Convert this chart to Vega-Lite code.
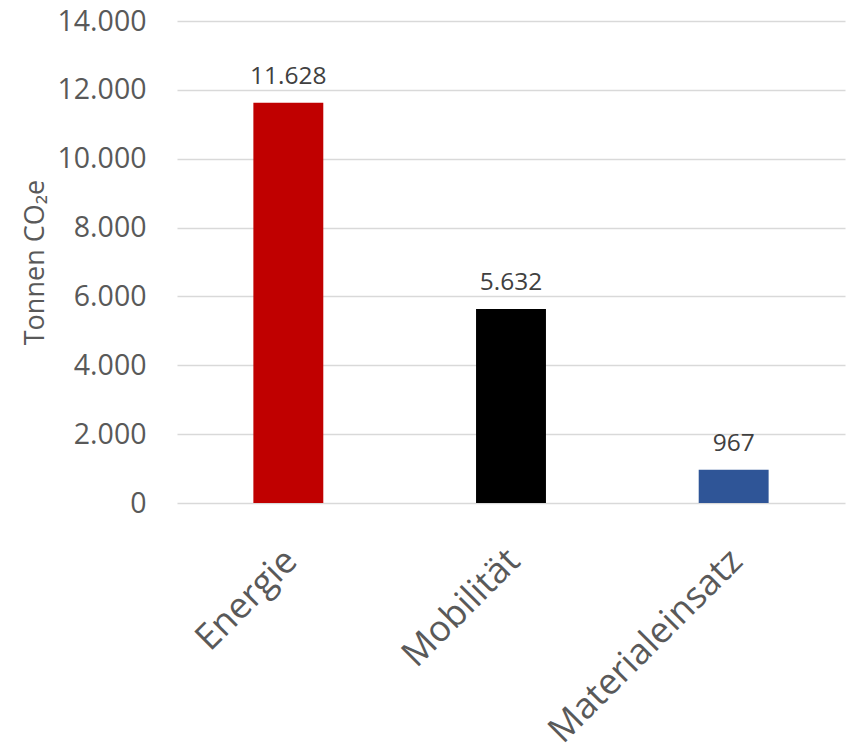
{
  "$schema": "https://vega.github.io/schema/vega-lite/v6.json",
  "width": 668,
  "height": 482,
  "autosize": {"type": "none"},
  "padding": {"left": 177, "top": 21, "right": 5, "bottom": 246},
  "background": "#ffffff",
  "config": {
    "view": {"stroke": null},
    "locale": {"number": {"decimal": ",", "thousands": ".", "grouping": [3], "currency": ["", " €"]}},
    "font": "Open Sans"
  },
  "data": {
    "values": [
      {"kategorie": "Energie", "tonnen": 11628},
      {"kategorie": "Mobilität", "tonnen": 5632},
      {"kategorie": "Materialeinsatz", "tonnen": 967}
    ]
  },
  "encoding": {
    "x": {
      "field": "kategorie",
      "type": "nominal",
      "sort": null,
      "scale": {"paddingInner": 0.686, "paddingOuter": 0.343},
      "axis": {
        "title": null,
        "domain": false,
        "ticks": false,
        "labelAngle": -45,
        "labelAlign": "right",
        "labelBaseline": "middle",
        "labelPadding": 52,
        "labelOffset": 3,
        "labelFont": "Open Sans",
        "labelFontSize": 36,
        "labelColor": "#595959",
        "labelLimit": 500,
        "labelOverlap": false,
        "labelBound": false,
        "labelFlush": false
      }
    },
    "y": {
      "field": "tonnen",
      "type": "quantitative",
      "scale": {"domain": [0, 14000]},
      "axis": {
        "title": "Tonnen CO₂e",
        "titleFont": "Open Sans",
        "titleFontSize": 27,
        "titleFontWeight": "normal",
        "titleColor": "#595959",
        "titleX": -142,
        "titleY": 241,
        "titleAngle": -90,
        "titleAlign": "center",
        "titleBaseline": "middle",
        "values": [0, 2000, 4000, 6000, 8000, 10000, 12000, 14000],
        "format": ",d",
        "domain": false,
        "ticks": false,
        "labelPadding": 31,
        "labelFont": "Open Sans",
        "labelFontSize": 28.5,
        "labelColor": "#595959",
        "grid": true,
        "gridColor": "#D9D9D9",
        "gridWidth": 1.5
      }
    }
  },
  "layer": [
    {
      "mark": {"type": "bar"},
      "encoding": {
        "color": {
          "field": "kategorie",
          "type": "nominal",
          "scale": {"domain": ["Energie", "Mobilität", "Materialeinsatz"], "range": ["#C00000", "#000000", "#2F5597"]},
          "legend": null
        }
      }
    },
    {
      "mark": {"type": "text", "baseline": "alphabetic", "dy": -19, "font": "Open Sans", "fontSize": 24.5, "color": "#404040"},
      "encoding": {
        "text": {"field": "tonnen", "type": "quantitative", "format": ",d"}
      }
    }
  ]
}
